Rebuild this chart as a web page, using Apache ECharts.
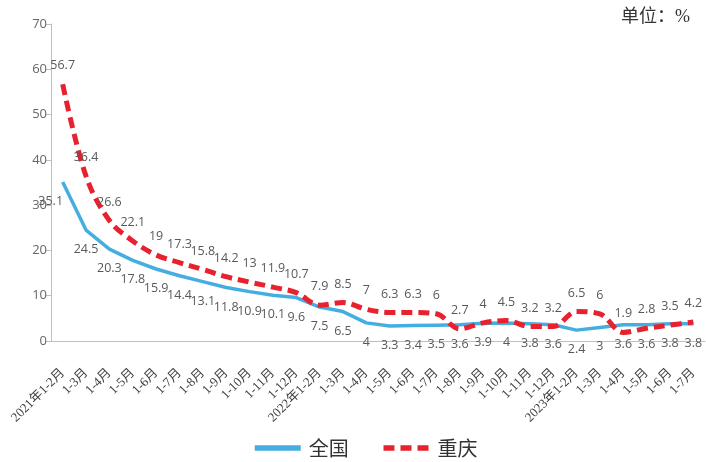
<!DOCTYPE html>
<html><head><meta charset="utf-8">
<script src="https://cdn.jsdelivr.net/npm/echarts@6/dist/echarts.min.js"></script>
<style>html,body{margin:0;padding:0;background:#fff}#c{width:706px;height:462px}</style>
</head><body><div id="c"></div>
<script>
var categories = ['2021年1-2月','1-3月','1-4月','1-5月','1-6月','1-7月','1-8月','1-9月','1-10月','1-11月','1-12月',
  '2022年1-2月','1-3月','1-4月','1-5月','1-6月','1-7月','1-8月','1-9月','1-10月','1-11月','1-12月',
  '2023年1-2月','1-3月','1-4月','1-5月','1-6月','1-7月'];
var nationalValues = [35.1,24.5,20.3,17.8,15.9,14.4,13.1,11.8,10.9,10.1,9.6,7.5,6.5,4,3.3,3.4,3.5,3.6,3.9,4,3.8,3.6,2.4,3,3.6,3.6,3.8,3.8];
var chongqingValues = [56.7,36.4,26.6,22.1,19,17.3,15.8,14.2,13,11.9,10.7,7.9,8.5,7,6.3,6.3,6,2.7,4,4.5,3.2,3.2,6.5,6,1.9,2.8,3.5,4.2];
var yTicks = {min:0, max:70, interval:10};

var nationalData = nationalValues.map(function(v, i){
  return i === 0 ? {value:v, label:{offset:[-12,0]}} : v;
});

var chart = echarts.init(document.getElementById('c'));
var CJK = '"Liberation Serif","Noto Sans CJK SC",serif';
chart.setOption({
  animation:false,
  grid:{left:51, right:1, top:24, bottom:121},
  graphic:[{type:'text', right:16, top:8, style:{text:'单位：%', font:'18px '+CJK, fill:'#333'}}],
  legend:{top:433, left:247, itemWidth:46, itemHeight:14, itemGap:32,
    itemStyle:{opacity:0}, lineStyle:{width:5.5},
    textStyle:{fontSize:20, color:'#333', fontFamily:'"Noto Sans CJK SC"', padding:[0,0,0,3]},
    data:['全国','重庆']},
  xAxis:{type:'category', data:categories, boundaryGap:true,
    axisLine:{lineStyle:{color:'#bfbfbf', width:1}}, axisTick:{show:false},
    axisLabel:{rotate:45, interval:0, fontSize:13, color:'#404040', fontFamily:CJK, margin:30}},
  yAxis:{type:'value', min:yTicks.min, max:yTicks.max, interval:yTicks.interval,
    axisLine:{show:true, lineStyle:{color:'#bfbfbf'}},
    axisTick:{show:true, length:5, lineStyle:{color:'#bfbfbf'}},
    splitLine:{show:false},
    axisLabel:{fontSize:13, color:'#666', margin:4, fontFamily:'"Open Sans",sans-serif'}},
  series:[
    {name:'全国', type:'line', data:nationalData, showSymbol:true, symbol:'circle', symbolSize:0, smooth:false,
      lineStyle:{color:'#45aee0', width:3.5}, itemStyle:{color:'#45aee0'},
      label:{show:true, position:'bottom', distance:13, fontSize:12.5, color:'#595959', fontFamily:'"Open Sans",sans-serif'},
      z:2},
    {name:'重庆', type:'line', data:chongqingValues, showSymbol:true, symbol:'circle', symbolSize:0, smooth:0.35,
      lineStyle:{color:'#e8212e', width:5, type:[11,6]}, itemStyle:{color:'#e8212e'},
      label:{show:true, position:'top', distance:12, fontSize:12.5, color:'#595959', fontFamily:'"Open Sans",sans-serif'},
      z:3}
  ]
});
</script></body></html>
